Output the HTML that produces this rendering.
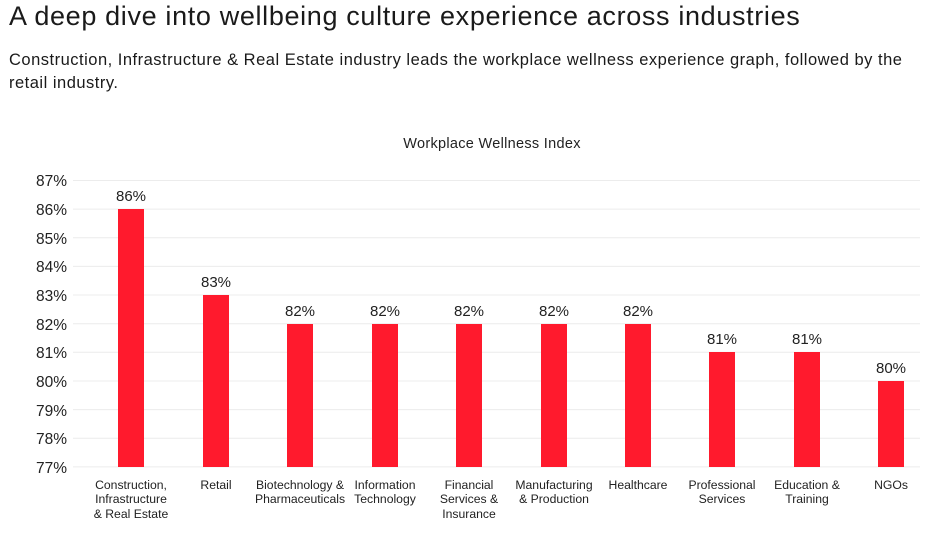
<!DOCTYPE html>
<html><head><meta charset="utf-8"><style>
body{margin:0;background:#fff;width:936px;height:549px;overflow:hidden;font-family:"Liberation Sans",sans-serif;color:#1a1a1a}
.t{position:absolute;left:9px;top:1px;font-size:27px;letter-spacing:0.65px;white-space:nowrap}
.s{position:absolute;left:9px;top:49px;width:910px;font-size:16.5px;line-height:23px;letter-spacing:0.5px}
</style></head><body>
<div class="t">A deep dive into wellbeing culture experience across industries</div>
<div class="s">Construction, Infrastructure &amp; Real Estate industry leads the workplace wellness experience graph, followed by the retail industry.</div>
<svg width="936" height="549" style="position:absolute;left:0;top:0" font-family="Liberation Sans, sans-serif">
<text x="492" y="148" font-size="14.5" text-anchor="middle" fill="#222" letter-spacing="0.3">Workplace Wellness Index</text>
<g stroke="#ececec" stroke-width="1">
<line x1="73" x2="920" y1="180.5" y2="180.5"/><line x1="73" x2="920" y1="209.1" y2="209.1"/><line x1="73" x2="920" y1="237.8" y2="237.8"/><line x1="73" x2="920" y1="266.4" y2="266.4"/><line x1="73" x2="920" y1="295" y2="295"/><line x1="73" x2="920" y1="323.7" y2="323.7"/><line x1="73" x2="920" y1="352.3" y2="352.3"/><line x1="73" x2="920" y1="381" y2="381"/><line x1="73" x2="920" y1="409.6" y2="409.6"/><line x1="73" x2="920" y1="438.2" y2="438.2"/><line x1="73" x2="920" y1="466.9" y2="466.9"/>
</g>
<g font-size="15.5" text-anchor="end" fill="#222">
<text x="67" y="186">87%</text><text x="67" y="215">86%</text><text x="67" y="244">85%</text><text x="67" y="272">84%</text><text x="67" y="301">83%</text><text x="67" y="330">82%</text><text x="67" y="358">81%</text><text x="67" y="387">80%</text><text x="67" y="416">79%</text><text x="67" y="444">78%</text><text x="67" y="473">77%</text>
</g>
<g fill="#ff1a2d">
<rect x="118" y="209" width="26" height="258"/>
<rect x="203" y="295" width="26" height="172"/>
<rect x="287" y="324" width="26" height="143"/>
<rect x="372" y="324" width="26" height="143"/>
<rect x="456" y="324" width="26" height="143"/>
<rect x="541" y="324" width="26" height="143"/>
<rect x="625" y="324" width="26" height="143"/>
<rect x="709" y="352" width="26" height="115"/>
<rect x="794" y="352" width="26" height="115"/>
<rect x="878" y="381" width="26" height="86"/>
</g>
<g font-size="15" text-anchor="middle" fill="#222">
<text x="131" y="201">86%</text><text x="216" y="287">83%</text><text x="300" y="316">82%</text><text x="385" y="316">82%</text><text x="469" y="316">82%</text><text x="554" y="316">82%</text><text x="638" y="316">82%</text><text x="722" y="344">81%</text><text x="807" y="344">81%</text><text x="891" y="373">80%</text>
</g>
<g font-size="12.2" text-anchor="middle" fill="#222">
<text x="131" y="489">Construction,</text><text x="131" y="503">Infrastructure</text><text x="131" y="518">&amp; Real Estate</text>
<text x="216" y="489">Retail</text>
<text x="300" y="489">Biotechnology &amp;</text><text x="300" y="503">Pharmaceuticals</text>
<text x="385" y="489">Information</text><text x="385" y="503">Technology</text>
<text x="469" y="489">Financial</text><text x="469" y="503">Services &amp;</text><text x="469" y="518">Insurance</text>
<text x="554" y="489">Manufacturing</text><text x="554" y="503">&amp; Production</text>
<text x="638" y="489">Healthcare</text>
<text x="722" y="489">Professional</text><text x="722" y="503">Services</text>
<text x="807" y="489">Education &amp;</text><text x="807" y="503">Training</text>
<text x="891" y="489">NGOs</text>
</g>
</svg>
</body></html>
